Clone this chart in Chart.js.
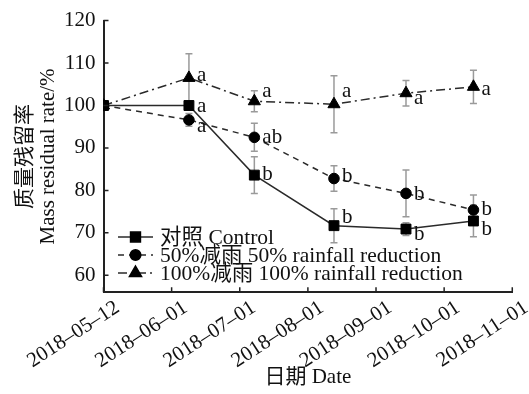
<!DOCTYPE html>
<html>
<head>
<meta charset="utf-8">
<script src="https://cdn.jsdelivr.net/npm/chart.js@4.4.0/dist/chart.umd.min.js"></script>
<style>
  html, body { margin: 0; padding: 0; background: #fff; }
  #wrap { width: 529px; height: 394px; }
</style>
</head>
<body>
<div id="wrap"><canvas id="residualChart" width="529" height="394"></canvas></div>
<script>
// tick labels on the date axis (evenly spaced in the figure)
const tickLabels = ['2018–05–12', '2018–06–01', '2018–07–01', '2018–08–01', '2018–09–01', '2018–10–01', '2018–11–01'];
// sampling positions, in tick units along the date axis
const samplePos = [0, 1.254, 2.214, 3.383, 4.44, 5.43];

const seriesNames = ['对照 Control', '50%减雨 50% rainfall reduction', '100%减雨 100% rainfall reduction'];

const controlValues = [100, 100, 83.6, 71.7, 70.9, 72.8];
const controlErr = [0, 0.8, 4.3, 4.0, 1.5, 3.7];
const controlSig = ['', 'a', 'b', 'b', 'b', 'b'];

const half50Values = [100, 96.6, 92.5, 82.8, 79.3, 75.4];
const half50Err = [0, 1.5, 3.3, 3.0, 5.5, 3.5];
const half50Sig = ['', 'a', 'ab', 'b', 'b', 'b'];

const full100Values = [100, 106.5, 101.0, 100.3, 102.9, 104.4];
const full100Err = [0, 5.7, 2.5, 6.7, 3.0, 3.9];
const full100Sig = ['', 'a', 'a', 'a', 'a', 'a'];

const FONT = "'Liberation Serif', 'Times New Roman', 'Noto Sans CJK SC', serif";
Chart.defaults.font.family = FONT;
Chart.defaults.color = '#111';

const toPoints = vals => vals.map((v, i) => ({ x: samplePos[i], y: v }));

// baseline shift of each letter from its point, px
const sigShift = [
  [0, 6, 5, -3, 11, 14],
  [0, 12, 6, 3, 7, 5],
  [0, 3, -4, -7, 11, 8]
];

const errorBars = {
  id: 'errorBars',
  beforeDatasetsDraw(chart) {
    const { ctx, scales: { y } } = chart;
    const errs = [controlErr, half50Err, full100Err];
    ctx.save();
    ctx.strokeStyle = '#9a9a9a';
    ctx.lineWidth = 1.5;
    chart.data.datasets.forEach((ds, di) => {
      const meta = chart.getDatasetMeta(di);
      meta.data.forEach((pt, i) => {
        const e = errs[di][i];
        if (!e) return;
        const v = ds.data[i].y;
        const top = y.getPixelForValue(v + e);
        const bot = y.getPixelForValue(v - e);
        ctx.beginPath();
        ctx.moveTo(pt.x, top); ctx.lineTo(pt.x, bot);
        ctx.moveTo(pt.x - 3.5, top); ctx.lineTo(pt.x + 3.5, top);
        ctx.moveTo(pt.x - 3.5, bot); ctx.lineTo(pt.x + 3.5, bot);
        ctx.stroke();
      });
    });
    ctx.restore();
  }
};

const sigLetters = {
  id: 'sigLetters',
  afterDatasetsDraw(chart) {
    const { ctx } = chart;
    const sigs = [controlSig, half50Sig, full100Sig];
    ctx.save();
    ctx.font = '21px ' + FONT;
    ctx.fillStyle = '#111';
    ctx.textBaseline = 'alphabetic';
    chart.data.datasets.forEach((ds, di) => {
      chart.getDatasetMeta(di).data.forEach((pt, i) => {
        if (!sigs[di][i]) return;
        ctx.fillText(sigs[di][i], pt.x + 8, pt.y + sigShift[di][i]);
      });
    });
    ctx.restore();
  }
};

const innerTicks = {
  id: 'innerTicks',
  afterDraw(chart) {
    const { ctx, chartArea, scales: { x, y } } = chart;
    ctx.save();
    ctx.strokeStyle = '#222';
    ctx.lineWidth = 1.5;
    ctx.beginPath();
    y.ticks.forEach(t => {
      const py = y.getPixelForValue(t.value);
      ctx.moveTo(chartArea.left, py); ctx.lineTo(chartArea.left + 5, py);
    });
    x.ticks.forEach(t => {
      const px = x.getPixelForValue(t.value);
      ctx.moveTo(px, chartArea.bottom); ctx.lineTo(px, chartArea.bottom - 5);
    });
    ctx.stroke();
    ctx.restore();
  }
};

const insideLegend = {
  id: 'insideLegend',
  afterDraw(chart) {
    const { ctx } = chart;
    const rows = [237, 255, 273];
    ctx.save();
    chart.data.datasets.forEach((ds, i) => {
      const yy = rows[i];
      ctx.strokeStyle = ds.borderColor;
      ctx.lineWidth = ds.borderWidth;
      ctx.setLineDash(ds.borderDash || []);
      ctx.beginPath();
      ctx.moveTo(118, yy); ctx.lineTo(153, yy);
      ctx.stroke();
      ctx.setLineDash([]);
      ctx.fillStyle = '#000';
      ctx.strokeStyle = '#000';
      Chart.helpers.drawPoint(ctx, { pointStyle: ds.pointStyle, radius: ds.pointRadius, rotation: 0, borderWidth: 1 }, 135.5, yy);
      ctx.fillStyle = '#111';
      ctx.font = '21.5px ' + FONT;
      ctx.textBaseline = 'middle';
      ctx.fillText(seriesNames[i], 160, yy + 1);
    });
    ctx.restore();
  }
};

const lineStyle = (label, vals, dash, style, radius) => ({
  label,
  data: toPoints(vals),
  borderColor: '#2a2a2a',
  borderWidth: 1.5,
  borderDash: dash,
  pointStyle: style,
  pointRadius: radius,
  pointBackgroundColor: '#000',
  pointBorderColor: '#000',
  pointBorderWidth: 1,
  tension: 0
});

new Chart(document.getElementById('residualChart'), {
  type: 'line',
  data: {
    datasets: [
      lineStyle(seriesNames[0], controlValues, [], 'rect', 7),
      lineStyle(seriesNames[1], half50Values, [6, 5], 'circle', 5.3),
      lineStyle(seriesNames[2], full100Values, [9, 4, 2, 4], 'triangle', 7)
    ]
  },
  options: {
    responsive: false,
    animation: false,
    layout: { padding: { left: 14, top: 20, right: 15, bottom: 4 } },
    plugins: { legend: { display: false }, tooltip: { enabled: false } },
    scales: {
      x: {
        type: 'linear',
        min: 0,
        max: 6,
        grid: { display: false, drawTicks: false },
        border: { color: '#222', width: 2 },
        ticks: {
          stepSize: 1,
          autoSkip: false,
          minRotation: 33,
          maxRotation: 33,
          labelOffset: 14,
          padding: 3,
          font: { size: 21 },
          callback: v => tickLabels[v] ?? ''
        },
        title: { display: true, text: '日期 Date', font: { size: 21 }, padding: { top: 0, bottom: 0 } },
        afterFit: s => { s.height = 97.7; }
      },
      y: {
        min: 56,
        max: 120,
        grid: { display: false, drawTicks: false },
        border: { color: '#222', width: 2 },
        ticks: { stepSize: 10, includeBounds: false, padding: 8, font: { size: 21 } },
        title: {
          display: true,
          text: ['质量残留率', 'Mass residual rate/%'],
          font: { size: 21, lineHeight: 1.1 },
          padding: { top: 0, bottom: 0 }
        },
        afterFit: s => { s.width = 89.5; }
      }
    }
  },
  plugins: [errorBars, sigLetters, innerTicks, insideLegend]
});
</script>
</body>
</html>
